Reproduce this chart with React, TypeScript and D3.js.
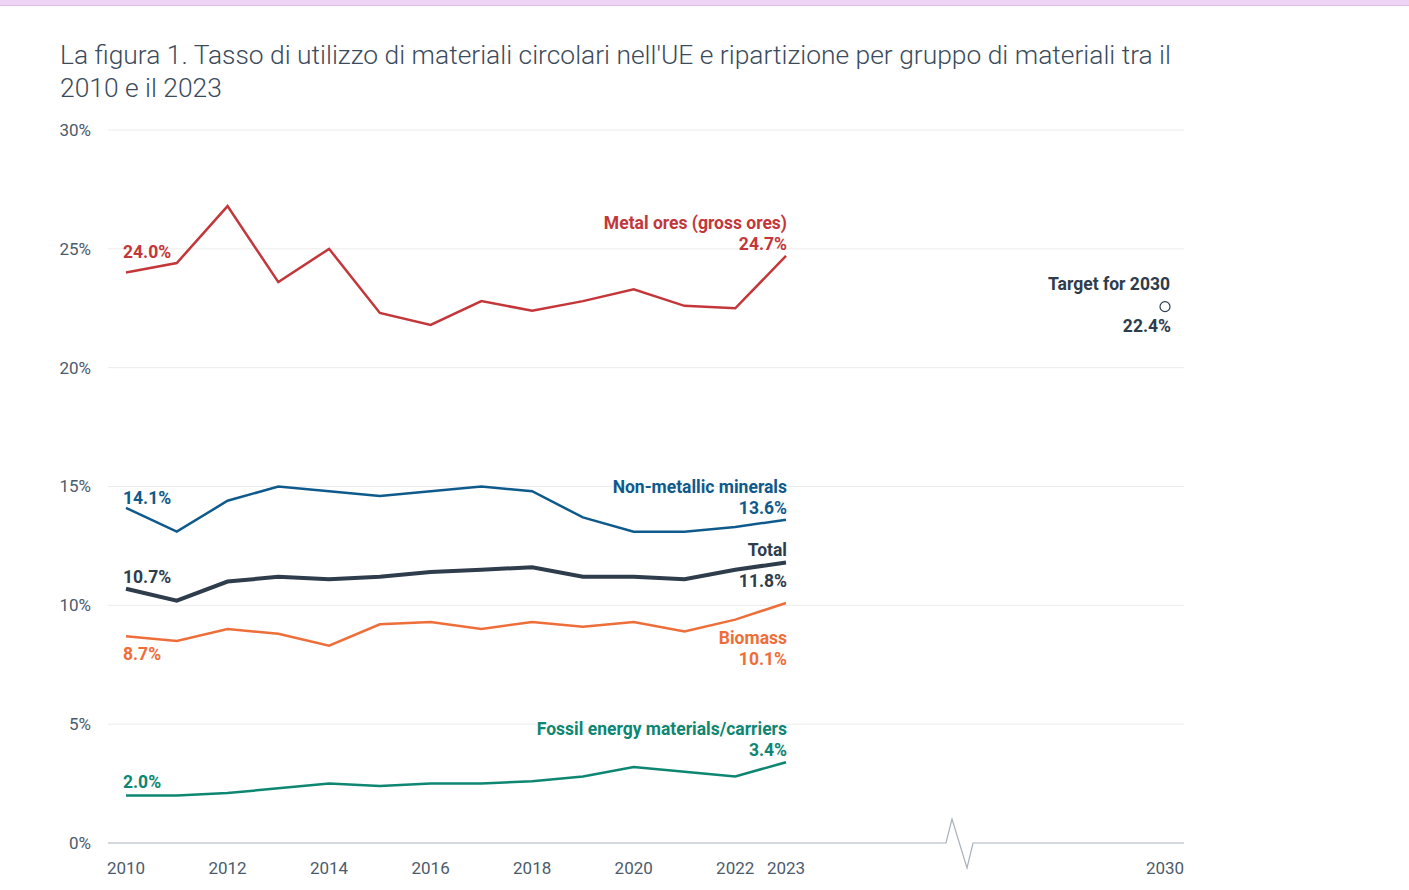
import React from "react";
import * as d3 from "d3";

const years = [2010, 2011, 2012, 2013, 2014, 2015, 2016, 2017, 2018, 2019, 2020, 2021, 2022, 2023];
const metalOres = [24.0, 24.4, 26.8, 23.6, 25.0, 22.3, 21.8, 22.8, 22.4, 22.8, 23.3, 22.6, 22.5, 24.7];
const nonMetallic = [14.1, 13.1, 14.4, 15.0, 14.8, 14.6, 14.8, 15.0, 14.8, 13.7, 13.1, 13.1, 13.3, 13.6];
const total = [10.7, 10.2, 11.0, 11.2, 11.1, 11.2, 11.4, 11.5, 11.6, 11.2, 11.2, 11.1, 11.5, 11.8];
const biomass = [8.7, 8.5, 9.0, 8.8, 8.3, 9.2, 9.3, 9.0, 9.3, 9.1, 9.3, 8.9, 9.4, 10.1];
const fossil = [2.0, 2.0, 2.1, 2.3, 2.5, 2.4, 2.5, 2.5, 2.6, 2.8, 3.2, 3.0, 2.8, 3.4];
const yTicks = [0, 5, 10, 15, 20, 25, 30];
const xTicks = [2010, 2012, 2014, 2016, 2018, 2020, 2022, 2023, 2030];
const targetYear = 2030;
const targetValue = 22.4;

type Series = {
  name: string;
  values: number[];
  color: string;
  width: number;
  startDy: number;
  endPos: "above" | "split" | "below";
};

const series: Series[] = [
  { name: "Metal ores (gross ores)", values: metalOres, color: "#c3373a", width: 2.5, startDy: -15, endPos: "above" },
  { name: "Non-metallic minerals", values: nonMetallic, color: "#0f5a8c", width: 2.5, startDy: -4, endPos: "above" },
  { name: "Total", values: total, color: "#2e3c4c", width: 4, startDy: -6, endPos: "split" },
  { name: "Biomass", values: biomass, color: "#ee6e3a", width: 2.5, startDy: 24, endPos: "below" },
  { name: "Fossil energy materials/carriers", values: fossil, color: "#0d8672", width: 2.5, startDy: -7, endPos: "above" },
];

const W = 1409;
const H = 890;
const LABEL = 17.5;

export default function App() {
  const x = d3.scaleLinear().domain([2010, 2023, 2030]).range([126, 786, 1165]);
  const y = d3.scaleLinear().domain([0, 30]).range([843, 130]);
  const line = d3
    .line<number>()
    .x((_, i) => x(years[i]))
    .y((d) => y(d));
  const font = "Roboto, 'Noto Sans', sans-serif";
  const fmt = (v: number) => v.toFixed(1) + "%";
  const lastYear = years[years.length - 1];
  const x0 = 108;
  const x1 = 1184;

  const breakPath = `M${x0},${y(0)} L946,${y(0)} L952,${y(0) - 24} L967,${y(0) + 25} L973,${y(0)} L${x1},${y(0)}`;

  return (
    <svg
      width={W}
      height={H}
      style={{ position: "absolute", left: 0, top: 0, background: "#fff" }}
      fontFamily={font}
    >
      <rect x={0} y={0} width={W} height={5} fill="#efd4f6" />
      <rect x={0} y={5} width={W} height={1} fill="#dbbde6" />
      <text x={60} y={64} fontSize={26.4} fontWeight={300} fill="#3b4b5c">
        La figura 1. Tasso di utilizzo di materiali circolari nell'UE e ripartizione per gruppo di materiali tra il
      </text>
      <text x={60} y={97} fontSize={26.4} fontWeight={300} fill="#3b4b5c">
        2010 e il 2023
      </text>

      {yTicks.filter((t) => t > 0).map((t) => (
        <line key={t} x1={x0} x2={x1} y1={y(t)} y2={y(t)} stroke="#ececec" strokeWidth={1} />
      ))}
      {yTicks.map((t) => (
        <text key={t} x={91} y={y(t)} dy="0.35em" textAnchor="end" fontSize={17} fill="#4b5b6c">
          {t}%
        </text>
      ))}
      <path d={breakPath} fill="none" stroke="#a9b0b7" strokeWidth={1.2} />
      {xTicks.map((t) => (
        <text key={t} x={x(t)} y={874} textAnchor="middle" fontSize={17} fill="#4b5b6c">
          {t}
        </text>
      ))}

      {series.map((s) => {
        const first = s.values[0];
        const last = s.values[s.values.length - 1];
        const fy = y(first);
        const ly = y(last);
        const ex = x(lastYear) + 1;
        return (
          <g key={s.name}>
            <path d={line(s.values) || ""} fill="none" stroke={s.color} strokeWidth={s.width} strokeLinejoin="miter" />
            <text x={123} y={fy + s.startDy} fontSize={LABEL} fontWeight={700} fill={s.color}>
              {fmt(first)}
            </text>
            {s.endPos === "above" && (
              <>
                <text x={ex} y={ly - 27} textAnchor="end" fontSize={LABEL} fontWeight={700} fill={s.color}>
                  {s.name}
                </text>
                <text x={ex} y={ly - 6} textAnchor="end" fontSize={LABEL} fontWeight={700} fill={s.color}>
                  {fmt(last)}
                </text>
              </>
            )}
            {s.endPos === "split" && (
              <>
                <text x={ex} y={ly - 7} textAnchor="end" fontSize={LABEL} fontWeight={700} fill={s.color}>
                  {s.name}
                </text>
                <text x={ex} y={ly + 24} textAnchor="end" fontSize={LABEL} fontWeight={700} fill={s.color}>
                  {fmt(last)}
                </text>
              </>
            )}
            {s.endPos === "below" && (
              <>
                <text x={ex} y={ly + 41} textAnchor="end" fontSize={LABEL} fontWeight={700} fill={s.color}>
                  {s.name}
                </text>
                <text x={ex} y={ly + 62} textAnchor="end" fontSize={LABEL} fontWeight={700} fill={s.color}>
                  {fmt(last)}
                </text>
              </>
            )}
          </g>
        );
      })}

      <circle cx={x(targetYear)} cy={y(targetValue) - 4} r={5} fill="#fff" stroke="#2e3c4c" strokeWidth={1.2} />
      <text x={1170} y={290} textAnchor="end" fontSize={LABEL} fontWeight={700} fill="#2e3c4c">
        Target for 2030
      </text>
      <text x={1171} y={332} textAnchor="end" fontSize={LABEL} fontWeight={700} fill="#2e3c4c">
        {fmt(targetValue)}
      </text>
    </svg>
  );
}
